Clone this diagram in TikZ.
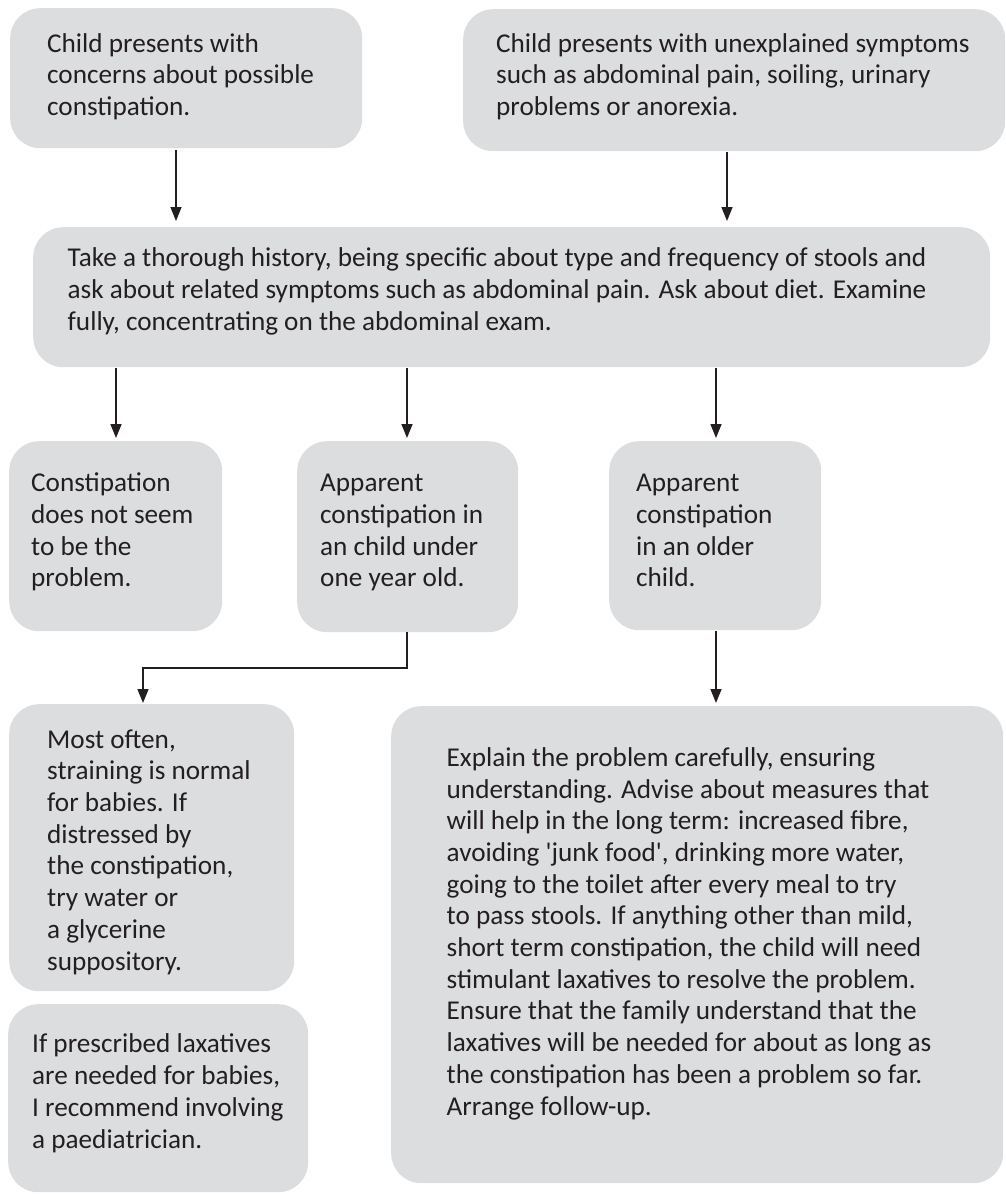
\documentclass[tikz,border=0pt]{standalone}
\usepackage{fontspec}
\setmainfont{Carlito}
\usetikzlibrary{arrows.meta,calc}
\definecolor{boxgray}{HTML}{DCDDDF}
\definecolor{ink}{HTML}{231F20}
\newcommand{\fs}[1]{\fontsize{#1}{31.7}\selectfont}
\tikzset{
  box/.style={fill=boxgray, draw=none, rounded corners=30pt, inner sep=0pt, anchor=north west},
  % texts are anchored at the baseline of their last line
  txt/.style={inner sep=0pt, anchor=base west, align=left, text=ink, font=\fs{27.2}},
  arr/.style={draw=ink, line width=1.5pt, -{Triangle[length=14pt,width=11pt]}}
}
\begin{document}
\begin{tikzpicture}[x=1pt,y=-1pt]
\useasboundingbox (0,0) rectangle (1006,1194);
% boxes
\node[box, minimum width=352pt, minimum height=140pt] (a) at (10,8) {};
\node[box, minimum width=542pt, minimum height=142pt] (b) at (463,9) {};
\node[box, minimum width=957pt, minimum height=140pt] (c) at (33,227) {};
\node[box, minimum width=213pt, minimum height=190pt] (d1) at (9,441) {};
\node[box, minimum width=221pt, minimum height=191pt] (d2) at (297,441) {};
\node[box, minimum width=212pt, minimum height=189pt] (d3) at (609,441) {};
\node[box, minimum width=285pt, minimum height=287pt] (e1) at (9,704) {};
\node[box, minimum width=300pt, minimum height=188pt] (f) at (8,1004) {};
\node[box, minimum width=612pt, minimum height=477pt] (e2) at (391,706) {};
% texts
\node[txt] (ta) at (47,115.5) {Child presents with\\concerns about possible\\constipation.};
\node[txt] (tb) at (496,115.5) {Child presents with unexplained symptoms\\such as abdominal pain, soiling, urinary\\problems or anorexia.};
\node[txt] (tc) at (67.5,330) {Take a thorough history, being specific about type and frequency of stools and\\ask about related symptoms such as abdominal pain. Ask about diet. Examine\\fully, concentrating on the abdominal exam.};
\node[txt] (td1) at (31,586.8) {Constipation\\does not seem\\to be the\\problem.};
\node[txt] (td2) at (320,586.8) {Apparent\\constipation in\\an child under\\one year old.};
\node[txt] (td3) at (636,586.8) {Apparent\\constipation\\in an older\\child.};
\node[txt] (te1) at (47,970) {Most often,\\straining is normal\\for babies. If\\distressed by\\the constipation,\\try water or\\a glycerine\\suppository.};
\node[txt] (tf) at (32,1148) {If prescribed laxatives\\are needed for babies,\\I recommend involving\\a paediatrician.};
\node[txt] (te2) at (446.5,1115) {Explain the problem carefully, ensuring\\understanding. Advise about measures that\\will help in the long term: increased fibre,\\avoiding \textquotesingle junk food\textquotesingle, drinking more water,\\going to the toilet after every meal to try\\to pass stools. If anything other than mild,\\short term constipation, the child will need\\stimulant laxatives to resolve the problem.\\Ensure that the family understand that the\\laxatives will be needed for about as long as\\the constipation has been a problem so far.\\Arrange follow-up.};
% connector columns
\coordinate (xa) at (176,0);
\coordinate (xb) at (727,0);
\coordinate (x1) at (116,0);
\coordinate (x2) at (407,0);
\coordinate (x3) at (716,0);
\coordinate (bend) at (143,668);
% connectors
\draw[arr] ([yshift=-2pt]a.south -| xa) -- ([yshift=6pt]c.north -| xa);
\draw[arr] ([yshift=-1pt]b.south -| xb) -- ([yshift=6pt]c.north -| xb);
\draw[arr] ([yshift=-1pt]c.south -| x1) -- ([yshift=3pt]d1.north -| x1);
\draw[arr] ([yshift=-1pt]c.south -| x2) -- ([yshift=3pt]d2.north -| x2);
\draw[arr] ([yshift=-1pt]c.south -| x3) -- ([yshift=3pt]d3.north -| x3);
\draw[arr] (d2.south -| x2) |- (bend) -- ([yshift=1pt]e1.north -| bend);
\draw[arr] ([yshift=-1pt]d3.south -| x3) -- ([yshift=3pt]e2.north -| x3);
\end{tikzpicture}
\end{document}
